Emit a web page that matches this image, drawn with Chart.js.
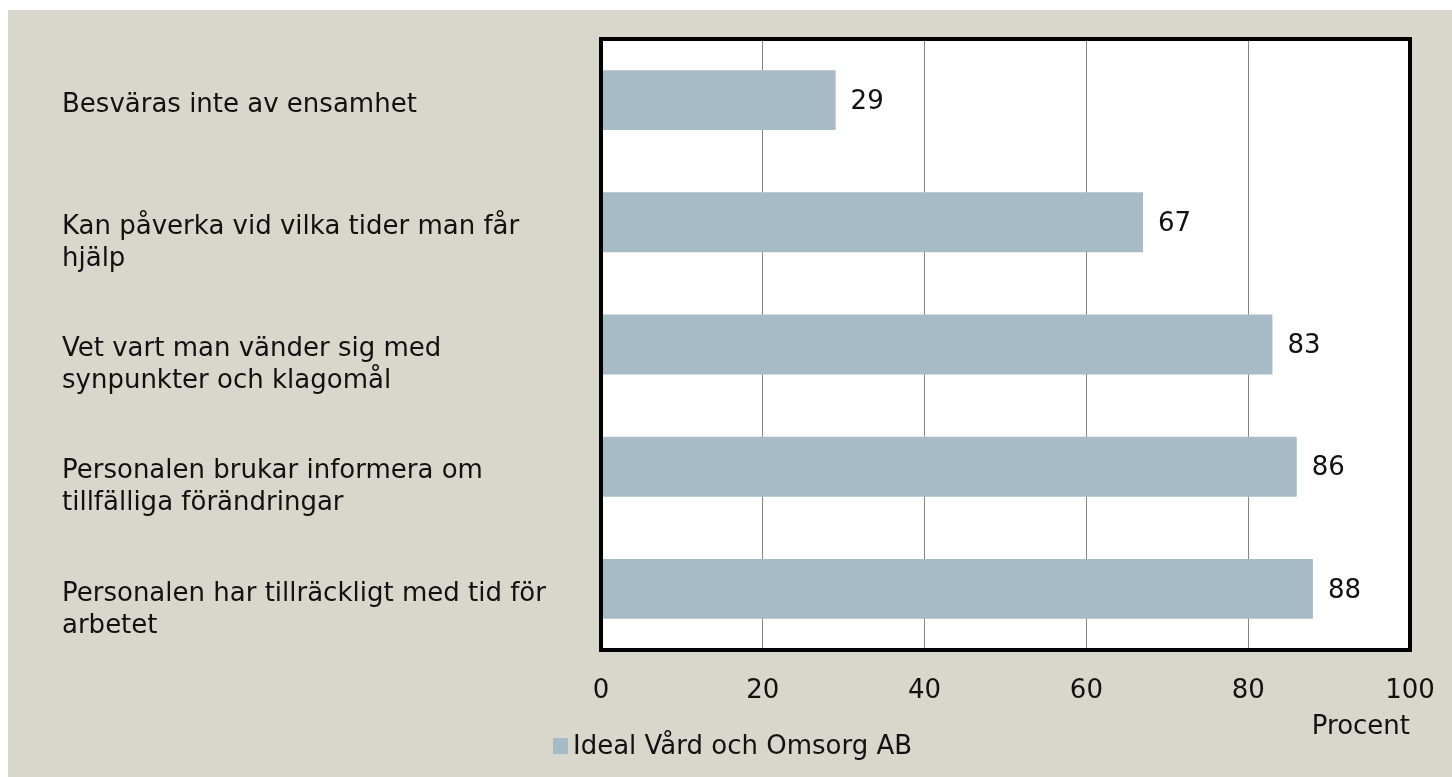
<!DOCTYPE html>
<html lang="sv">
<head>
<meta charset="utf-8">
<title>Ideal Vård och Omsorg AB</title>
<script src="https://cdn.jsdelivr.net/npm/chart.js@4.4.0/dist/chart.umd.min.js"></script>
<style>
  html, body { margin: 0; padding: 0; background: #fff; }
  #wrap {
    position: absolute; left: 8px; top: 10px;
    width: 1444px; height: 767px;
    background: #d9d7cb;
  }
</style>
</head>
<body>
<div id="wrap"><canvas id="chart"></canvas></div>
<script>
// data
const categories = [
  'Besväras inte av ensamhet',
  ['Kan påverka vid vilka tider man får', 'hjälp'],
  ['Vet vart man vänder sig med', 'synpunkter och klagomål'],
  ['Personalen brukar informera om', 'tillfälliga förändringar'],
  ['Personalen har tillräckligt med tid för', 'arbetet']
];
const seriesName = 'Ideal Vård och Omsorg AB';
const values = [29, 67, 83, 86, 88];
const xTicks = [0, 20, 40, 60, 80, 100];
const axisTitle = 'Procent';

const FONT = 'DejaVu Sans';
const SIZE = 26;
const barColor = '#a7bbc6';

// vit plotyta
const plotBg = {
  id: 'plotBg',
  beforeDraw(chart) {
    const { ctx, chartArea: a } = chart;
    ctx.save();
    ctx.fillStyle = '#fff';
    ctx.fillRect(a.left, a.top, a.right - a.left, a.bottom - a.top);
    ctx.restore();
  }
};

// ram runt plotytan
const frame = {
  id: 'frame',
  afterDraw(chart) {
    const { ctx, chartArea: a } = chart;
    ctx.save();
    ctx.strokeStyle = '#000';
    ctx.lineWidth = 4;
    ctx.strokeRect(a.left, a.top, a.right - a.left, a.bottom - a.top);
    ctx.restore();
  }
};

// värden vid staplarnas ände
const valueLabels = {
  id: 'valueLabels',
  afterDatasetsDraw(chart) {
    const { ctx } = chart;
    ctx.save();
    ctx.font = SIZE + 'px ' + FONT;
    ctx.fillStyle = '#111';
    ctx.textAlign = 'left';
    ctx.textBaseline = 'middle';
    chart.getDatasetMeta(0).data.forEach((bar, i) => {
      ctx.fillText(values[i], bar.x + 15, bar.y + 2);
    });
    ctx.restore();
  }
};

// förklaring nere till vänster
const legendBox = {
  id: 'legendBox',
  afterDraw(chart) {
    const { ctx } = chart;
    const ds = chart.data.datasets[0];
    const x = 545, y = 736;
    ctx.save();
    ctx.fillStyle = ds.backgroundColor;
    ctx.fillRect(x, y - 8, 15, 16);
    ctx.font = SIZE + 'px ' + FONT;
    ctx.fillStyle = '#111';
    ctx.textAlign = 'left';
    ctx.textBaseline = 'middle';
    ctx.fillText(ds.label, x + 20, y + 1);
    ctx.restore();
  }
};

new Chart(document.getElementById('chart'), {
  type: 'bar',
  data: {
    labels: categories,
    datasets: [{
      label: seriesName,
      data: values,
      backgroundColor: barColor,
      borderWidth: 0,
      categoryPercentage: 0.5,
      barPercentage: 0.98
    }]
  },
  options: {
    indexAxis: 'y',
    responsive: true,
    maintainAspectRatio: false,
    animation: false,
    layout: { padding: { left: 54, top: 29, right: 42, bottom: 34 } },
    plugins: {
      legend: { display: false },
      tooltip: { enabled: false }
    },
    scales: {
      x: {
        min: 0,
        max: 100,
        afterBuildTicks: scale => { scale.ticks = xTicks.map(v => ({ value: v })); },
        grid: { color: '#868686', lineWidth: 1, drawTicks: false },
        border: { display: false },
        ticks: {
          color: '#111',
          padding: 26,
          font: { family: FONT, size: SIZE }
        },
        title: {
          display: true,
          text: axisTitle,
          align: 'end',
          color: '#111',
          font: { family: FONT, size: SIZE },
          padding: { top: 4, bottom: 0 }
        },
        afterFit: scale => {
          scale.height = 93;
          scale.paddingLeft = 0;
          scale.paddingRight = 0;
        }
      },
      y: {
        grid: { display: false },
        border: { display: false },
        ticks: {
          crossAlign: 'far',
          labelOffset: 21,
          color: '#111',
          font: { family: FONT, size: SIZE, lineHeight: 1.23 },
          // enradiga etiketter får en tom andra rad så att första raden hamnar vid stapeln
          callback: (v, i) => Array.isArray(categories[i]) ? categories[i] : [categories[i], '']
        },
        afterFit: scale => {
          scale.width = 539;
          scale.paddingTop = 0;
          scale.paddingBottom = 0;
        }
      }
    }
  },
  plugins: [plotBg, frame, valueLabels, legendBox]
});
</script>
</body>
</html>
